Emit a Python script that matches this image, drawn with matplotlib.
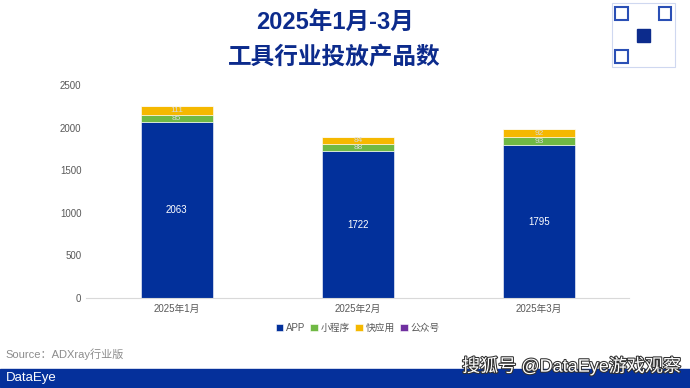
import numpy as np
import matplotlib.pyplot as plt
from matplotlib.patches import Rectangle
import matplotlib.patheffects as pe

plt.rcParams['font.family'] = ['Liberation Sans', 'Noto Sans CJK SC']

months = ['2025年1月', '2025年2月', '2025年3月']
series = ['APP', '小程序', '快应用', '公众号']
app = [2063, 1722, 1795]
mini = [85, 88, 93]
quick = [111, 84, 92]
official = [0, 0, 0]
colors = ['#02309b', '#70b944', '#f5b800', '#7030a0']

fig = plt.figure(figsize=(6.9, 3.88), dpi=100)

ax = fig.add_axes([0.125, 0.232, 0.787, 0.549])
ax.patch.set_alpha(0)
x = np.arange(len(months))
bottom = np.zeros(len(months))
for vals, name, c in zip([app, mini, quick, official], series, colors):
    ax.bar(x, vals, 0.4, bottom=bottom, color=c, label=name, edgecolor='white', linewidth=0.4)
    for xi, b, v in zip(x, bottom, vals):
        if v <= 0:
            continue
        if name == 'APP':
            ax.text(xi, b + v / 2, str(v), ha='center', va='center', fontsize=7, color='white')
        else:
            ax.text(xi, b + v / 2, str(v), ha='center', va='center', fontsize=6, color='#d9d9d9')
    bottom += np.array(vals)

ax.set_xlim(-0.5, 2.5)
ax.set_ylim(0, 2500)
ax.set_yticks(range(0, 2501, 500))
ax.set_xticks(x)
ax.set_xticklabels(months)
ax.tick_params(axis='both', labelsize=7, colors='#595959', length=0)
ax.tick_params(axis='x', pad=4)
for s in ['top', 'right', 'left']:
    ax.spines[s].set_visible(False)
ax.spines['bottom'].set_color('#d9d9d9')

ax.legend(loc='upper center', bbox_to_anchor=(0.5, -0.075), ncol=4, frameon=False,
          fontsize=7, handlelength=0.8, handleheight=0.8, handletextpad=0.3,
          columnspacing=0.5, labelcolor='#595959')

fig.text(0.485, 0.943, '2025年1月-3月', fontsize=17, fontweight='bold', color='#0c2b8c',
         ha='center', va='center')
fig.text(0.485, 0.85, '工具行业投放产品数', fontsize=17, fontweight='bold', color='#0c2b8c',
         ha='center', va='center')

fig.text(0.008, 0.088, 'Source：ADXray行业版', fontsize=8, color='#8c8c8c', va='center')

# bottom banner
fig.patches.append(Rectangle((0, 0.003), 1, 0.046, transform=fig.transFigure, color='#05309b', zorder=1))
fig.text(0.008, 0.026, 'DataEye', fontsize=9.5, color='white', va='center', zorder=2)
fig.text(0.986, 0.057, '搜狐号 @DataEye游戏观察', fontsize=13, color='white', ha='right', va='center',
         zorder=3, path_effects=[pe.withStroke(linewidth=1.5, foreground='#303030')])

# QR code placeholder
qx, qy, qw, qs = 0.887, 0.827, 0.091, 0.165
fig.patches.append(Rectangle((qx, qy), qw, qs, transform=fig.transFigure, fill=False,
                             edgecolor='#cfd8f0', linewidth=0.8, zorder=1))
for dx, dy in [(0, 0), (0, 1), (1, 1)]:
    fx = qx + 0.005 + dx * (qw - 0.01 - qw * 0.2)
    fy = qy + 0.01 + dy * (qs - 0.02 - qs * 0.2)
    fig.patches.append(Rectangle((fx, fy), qw * 0.2, qs * 0.2, transform=fig.transFigure,
                                 fill=False, edgecolor='#2a4fb5', linewidth=1.5, zorder=2))
fig.patches.append(Rectangle((qx + qw * 0.4, qy + qs * 0.4), qw * 0.2, qs * 0.2,
                             transform=fig.transFigure, color='#0c2b8c', zorder=2))

fig.savefig('out.png', dpi=100)
